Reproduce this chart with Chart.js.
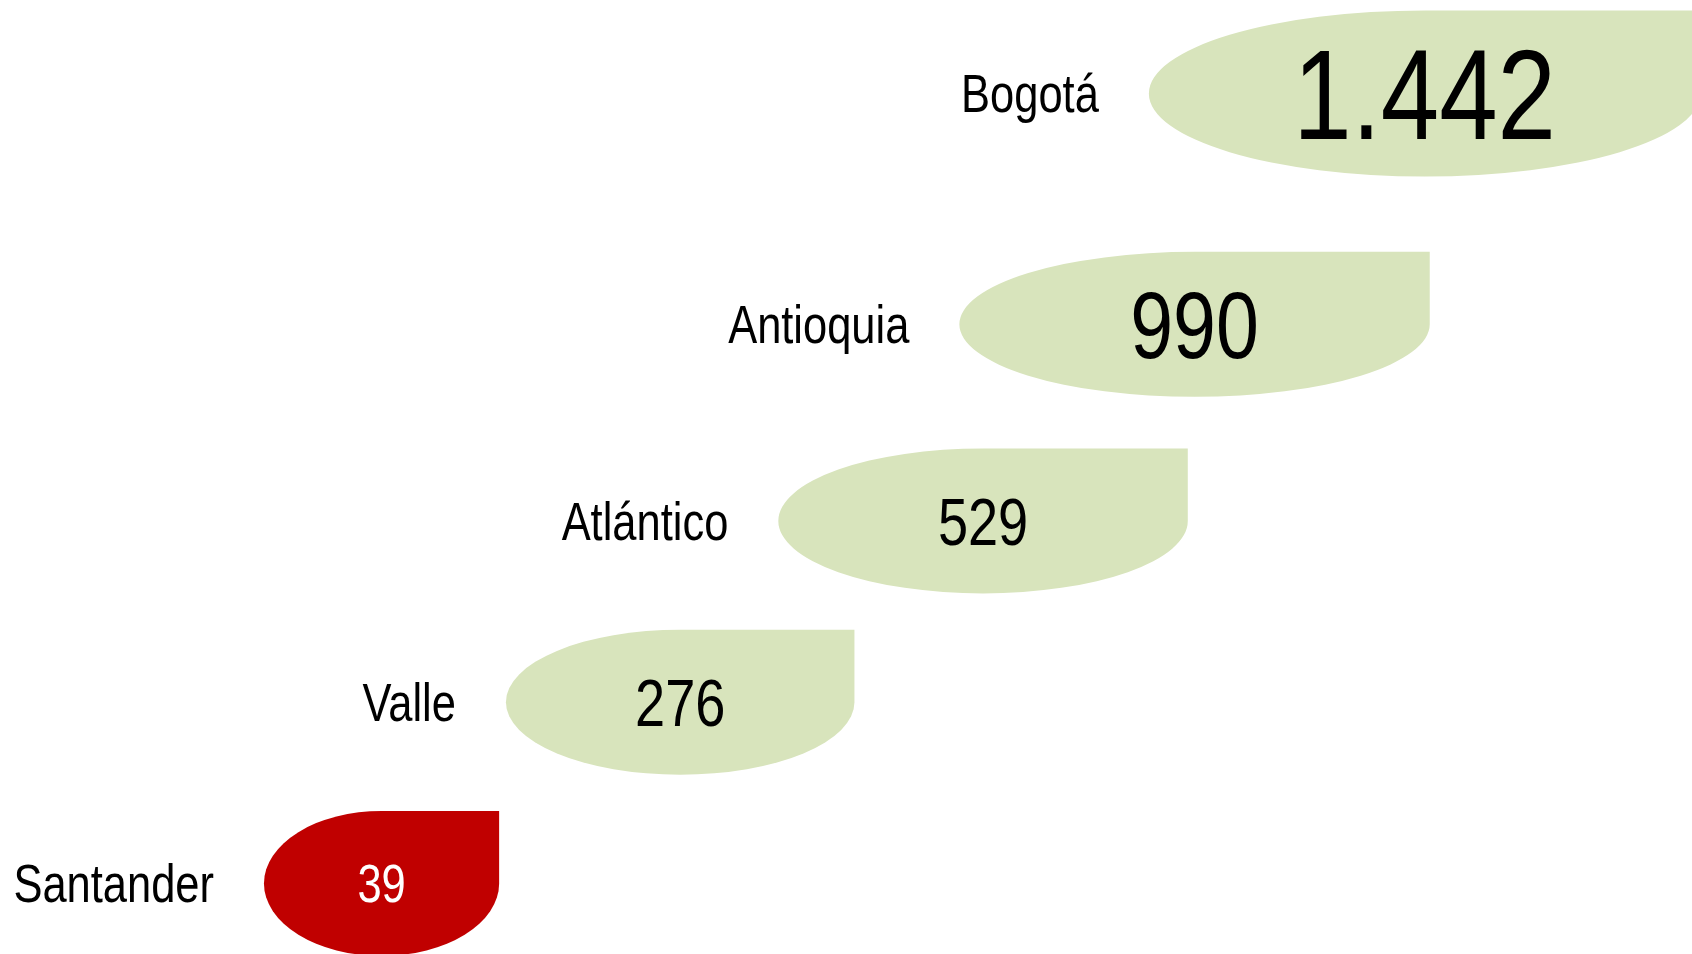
<!DOCTYPE html>
<html>
<head>
<meta charset="utf-8">
<script src="https://cdn.jsdelivr.net/npm/chart.js@4/dist/chart.umd.min.js"></script>
<style>
  html, body { margin: 0; padding: 0; background: #ffffff; }
  #wrap { width: 1692px; height: 954px; position: relative; }
</style>
</head>
<body>
<div id="wrap"><canvas id="chart"></canvas></div>
<script>
// Casos por departamento, dibujados como "gotas" sobre barras flotantes

const regions = ["Bogotá", "Antioquia", "Atlántico", "Valle", "Santander"];
const cases = [1442, 990, 529, 276, 39];
const valueLabels = ["1.442", "990", "529", "276", "39"];
// extent of each drop on the (hidden) 0-100 layout axis
const spanStart = [67.9, 56.7, 46.0, 29.9, 15.6];
const spanEnd = [100.5, 84.5, 70.2, 50.5, 29.5];
// row on the (hidden) 0-5 vertical axis
const rowPos = [0.49, 1.70, 2.73, 3.68, 4.63];

// no Arial Narrow here: squeeze Liberation Sans instead
const FONT = '"Liberation Sans", Arial, sans-serif';
const NARROW = 0.82;
const GREEN = "#d8e4bc";
const RED = "#c00000";
const valueFontSize = [128, 94, 66, 66, 53];
const labelFontSize = 53;

function pointsFor(indexes) {
  return indexes.map((i) => ({ y: rowPos[i], x: [spanStart[i], spanEnd[i]], row: i }));
}

function narrowText(ctx, text, x, y, align) {
  ctx.save();
  ctx.translate(x, y);
  ctx.scale(NARROW, 1);
  ctx.textAlign = align;
  ctx.textBaseline = "alphabetic";
  ctx.fillText(text, 0, 0);
  ctx.restore();
}

const dropsPlugin = {
  id: "drops",
  afterDatasetsDraw(chart) {
    const ctx = chart.ctx;
    const minCases = Math.min(...cases);
    chart.data.datasets.forEach((ds, di) => {
      const meta = chart.getDatasetMeta(di);
      meta.data.forEach((bar, j) => {
        const i = ds.data[j].row;
        const { x, base, y, height } = bar.getProps(["x", "base", "y", "height"], true);
        const cx = (x + base) / 2;
        const rx = Math.abs(x - base) / 2;
        const ry = height / 2;
        const isLast = cases[i] === minCases;

        ctx.save();
        ctx.beginPath();
        ctx.moveTo(cx, y - ry);
        ctx.lineTo(cx + rx, y - ry);
        ctx.lineTo(cx + rx, y);
        ctx.ellipse(cx, y, rx, ry, 0, 0, 1.5 * Math.PI);
        ctx.closePath();
        ctx.fillStyle = isLast ? RED : GREEN;
        ctx.fill();

        // value inside the drop
        const vs = valueFontSize[i];
        ctx.font = vs + "px " + FONT;
        ctx.fillStyle = isLast ? "#ffffff" : "#000000";
        narrowText(ctx, valueLabels[i], cx, y + vs * 0.358, "center");

        // region name to the left
        ctx.font = labelFontSize + "px " + FONT;
        ctx.fillStyle = "#000000";
        narrowText(ctx, regions[i], cx - rx - 50, y + labelFontSize * 0.358, "right");
        ctx.restore();
      });
    });
  },
};

new Chart(document.getElementById("chart"), {
  type: "bar",
  data: {
    datasets: [
      {
        label: "Casos",
        data: pointsFor([0]),
        barThickness: 166,
        backgroundColor: "rgba(0,0,0,0)",
      },
      {
        label: "Casos",
        data: pointsFor([1, 2, 3, 4]),
        barThickness: 145,
        backgroundColor: "rgba(0,0,0,0)",
      },
    ],
  },
  options: {
    indexAxis: "y",
    responsive: true,
    maintainAspectRatio: false,
    animation: false,
    layout: { padding: 0 },
    grouped: false,
    plugins: {
      legend: { display: false },
      tooltip: { enabled: false },
    },
    scales: {
      x: { type: "linear", min: 0, max: 100, display: false },
      y: { type: "linear", min: 0, max: 5, reverse: true, offset: false, display: false },
    },
  },
  plugins: [dropsPlugin],
});
</script>
</body>
</html>
